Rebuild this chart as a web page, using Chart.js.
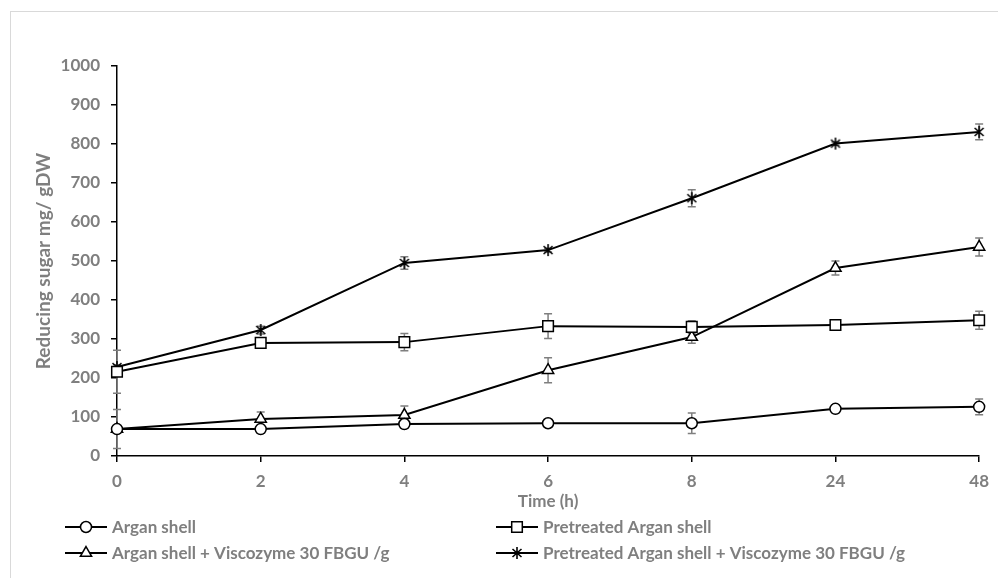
<!DOCTYPE html>
<html>
<head>
<meta charset="utf-8">
<script src="https://cdn.jsdelivr.net/npm/chart.js"></script>
<style>
  body { margin: 0; background: #fff; }
  #wrap { position: relative; width: 998px; height: 578px; }
  #frame { position: absolute; left: 10px; top: 11px; width: 1000px; height: 600px;
           border-left: 1px solid #d9d9d9; border-top: 1px solid #d9d9d9; pointer-events: none; }
</style>
</head>
<body>
<div id="wrap">
  <canvas id="sugarChart" width="998" height="578"></canvas>
  <div id="frame"></div>
</div>
<script>
var timeLabels = ['0', '2', '4', '6', '8', '24', '48'];

var arganShell = [69, 69, 82, 84, 84, 121, 126];
var arganShellErr = [50, 5, 6, 5, 26, 8, 20];

var pretreated = [216, 290, 292, 333, 331, 336, 348];
var pretreatedErr = [55, 10, 22, 32, 16, 12, 23];

var arganVisco = [69, 95, 105, 220, 305, 482, 536];
var arganViscoErr = [5, 18, 23, 32, 16, 18, 23];

var pretreatedVisco = [228, 323, 495, 528, 661, 801, 831];
var pretreatedViscoErr = [6, 10, 16, 5, 22, 4, 20];

var grey = '#7f7f7f';
var fontName = 'Lato';

// asterisk marker (X with a vertical stroke)
function makeAsterisk() {
  var c = document.createElement('canvas');
  c.width = 14; c.height = 14;
  var g = c.getContext('2d');
  g.strokeStyle = '#000';
  g.lineWidth = 1.6;
  g.beginPath();
  g.moveTo(2.5, 3); g.lineTo(11.5, 11);
  g.moveTo(11.5, 3); g.lineTo(2.5, 11);
  g.moveTo(7, 1); g.lineTo(7, 13);
  g.stroke();
  return c;
}
var asterisk = makeAsterisk();

var errorBars = {
  id: 'errorBars',
  beforeDatasetsDraw: function (chart) {
    var ctx = chart.ctx;
    var y = chart.scales.y;
    ctx.save();
    ctx.strokeStyle = grey;
    ctx.lineWidth = 1.5;
    chart.data.datasets.forEach(function (ds, i) {
      var meta = chart.getDatasetMeta(i);
      meta.data.forEach(function (pt, j) {
        var e = ds.errors[j];
        var top = y.getPixelForValue(ds.data[j] + e);
        var bot = y.getPixelForValue(ds.data[j] - e);
        ctx.beginPath();
        ctx.moveTo(pt.x, top); ctx.lineTo(pt.x, bot);
        ctx.moveTo(pt.x - 4, top); ctx.lineTo(pt.x + 4, top);
        ctx.moveTo(pt.x - 4, bot); ctx.lineTo(pt.x + 4, bot);
        ctx.stroke();
      });
    });
    ctx.restore();
  }
};

function drawMarker(ctx, ds, x, y) {
  var r = ds.pointRadius;
  ctx.fillStyle = '#fff';
  ctx.strokeStyle = '#000';
  ctx.lineWidth = 1.5;
  ctx.beginPath();
  if (ds.pointStyle === 'circle') {
    ctx.arc(x, y, r, 0, Math.PI * 2);
  } else if (ds.pointStyle === 'rect') {
    var s = r * Math.SQRT1_2;
    ctx.rect(x - s, y - s, 2 * s, 2 * s);
  } else if (ds.pointStyle === 'triangle') {
    ctx.moveTo(x, y - r);
    ctx.lineTo(x + r * 0.866, y + r * 0.5);
    ctx.lineTo(x - r * 0.866, y + r * 0.5);
    ctx.closePath();
  } else {
    ctx.drawImage(ds.pointStyle, x - 7, y - 7);
    return;
  }
  ctx.fill();
  ctx.stroke();
}

var bottomLegend = {
  id: 'bottomLegend',
  afterDraw: function (chart) {
    var ctx = chart.ctx;
    var spots = [[65, 527], [496, 527], [65, 553], [496, 553]];
    ctx.save();
    ctx.font = 'bold 17px ' + fontName;
    ctx.textBaseline = 'middle';
    chart.data.datasets.forEach(function (ds, i) {
      var x = spots[i][0], y = spots[i][1];
      ctx.strokeStyle = '#000';
      ctx.lineWidth = 2;
      ctx.beginPath();
      ctx.moveTo(x, y); ctx.lineTo(x + 42, y);
      ctx.stroke();
      drawMarker(ctx, ds, x + 21, y);
      ctx.fillStyle = grey;
      ctx.fillText(ds.label, x + 47, y + 1);
    });
    ctx.restore();
  }
};

function series(label, values, errs, style, radius) {
  return {
    label: label,
    data: values,
    errors: errs,
    borderColor: '#000',
    borderWidth: 2,
    pointStyle: style,
    pointRadius: radius,
    pointBackgroundColor: '#fff',
    pointBorderColor: '#000',
    pointBorderWidth: 1.5,
    tension: 0,
    fill: false
  };
}

var ctx = document.getElementById('sugarChart').getContext('2d');
var sugarChart = new Chart(ctx, {
  type: 'line',
  data: {
    labels: timeLabels,
    datasets: [
      series('Argan shell', arganShell, arganShellErr, 'circle', 5.5),
      series('Pretreated Argan shell', pretreated, pretreatedErr, 'rect', 7.5),
      series('Argan shell + Viscozyme 30 FBGU /g', arganVisco, arganViscoErr, 'triangle', 6.5),
      series('Pretreated Argan shell + Viscozyme 30 FBGU /g', pretreatedVisco, pretreatedViscoErr, asterisk, 7)
    ]
  },
  options: {
    responsive: false,
    animation: false,
    layout: { padding: { left: 10, top: 66, right: 16, bottom: 62 } },
    plugins: {
      legend: { display: false },
      tooltip: { enabled: false }
    },
    scales: {
      x: {
        type: 'category',
        offset: false,
        afterFit: function (s) { s.height = 60; },
        grid: { display: true, drawOnChartArea: false, drawTicks: true, tickLength: 6, color: '#000', lineWidth: 1.5, offset: false },
        border: { display: true, color: '#000', width: 1.5 },
        ticks: { color: grey, padding: 9, font: { family: fontName, size: 17, weight: 'bold' } },
        title: { display: true, text: 'Time (h)', color: grey, padding: { top: 0, bottom: 4 }, font: { family: fontName, size: 17, weight: 'bold' } }
      },
      y: {
        min: 0,
        max: 1000,
        afterFit: function (s) { s.width = 107; },
        grid: { display: true, drawOnChartArea: false, drawTicks: true, tickLength: 6, color: '#000', lineWidth: 1.5 },
        border: { display: true, color: '#000', width: 1.5 },
        ticks: {
          stepSize: 100, color: grey, padding: 11,
          font: { family: fontName, size: 17, weight: 'bold' },
          callback: function (v) { return String(v); }
        },
        title: { display: true, text: 'Reducing sugar mg/ gDW', color: grey, padding: { top: 22, bottom: 0 }, font: { family: fontName, size: 19, weight: 'bold' } }
      }
    }
  },
  plugins: [errorBars, bottomLegend]
});
</script>
</body>
</html>
